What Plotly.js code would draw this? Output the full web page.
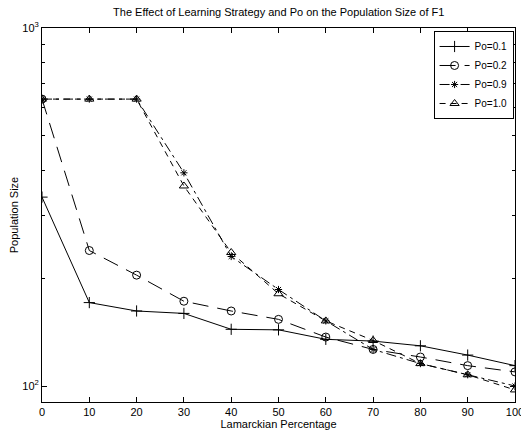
<!DOCTYPE html>
<html>
<head>
<meta charset="utf-8">
<script src="https://cdn.plot.ly/plotly-3.0.1.min.js"></script>
<style>html,body{margin:0;padding:0;background:#fff}#chart{width:521px;height:431px}</style>
</head>
<body>
<div id="chart"></div>
<script>
const lamarckian = [0, 10, 20, 30, 40, 50, 60, 70, 80, 90, 100];
const po01 = [337, 171, 162, 159.5, 144, 143.5, 135, 133.5, 129.5, 122, 114];
const po02 = [633, 239, 204, 172.5, 162, 153.5, 137, 126.5, 120.5, 114, 109.5];
const po09 = [633, 633, 633, 394, 230, 186, 152, 126.5, 115.5, 107.5, 100];
const po10 = [633, 633, 633, 362, 236, 181, 152, 134, 115.5, 107.5, 97.5];
const seriesNames = ['Po=0.1', 'Po=0.2', 'Po=0.9', 'Po=1.0'];
const yTickVals = [100, 1000];
const yTickText = ['10<sup>2</sup>', '10<sup>3</sup>'];
const yMinorVals = [200, 300, 400, 500, 600, 700, 800, 900];
const xTickVals = [0, 10, 20, 30, 40, 50, 60, 70, 80, 90, 100];

const styles = [
  {dash: 'solid', symbol: 'cross-thin-open', size: 8},
  {dash: '16px,9px', symbol: 'circle-open', size: 8},
  {dash: '10px,4px,3px,4px', symbol: 'asterisk-open', size: 6},
  {dash: '6px,5px', symbol: 'triangle-up-open', size: 8}
];
const allY = [po01, po02, po09, po10];
const traces = allY.map((ys, i) => ({
  x: lamarckian, y: ys, name: seriesNames[i], type: 'scatter', mode: 'lines+markers',
  line: {color: '#000', width: 1, dash: styles[i].dash},
  marker: {symbol: styles[i].symbol, size: styles[i].size, color: '#000', line: {color: '#000', width: 1}}
}));

const axisFont = {family: 'Liberation Sans, Arial, sans-serif', size: 11, color: '#000'};
const layout = {
  width: 521, height: 431,
  margin: {l: 42, r: 6, t: 28, b: 29},
  paper_bgcolor: '#fff', plot_bgcolor: '#fff',
  font: axisFont,
  title: {text: 'The Effect of Learning Strategy and Po on the Population Size of F1',
          font: {family: 'Liberation Sans, Arial, sans-serif', size: 11, color: '#000'},
          x: 0.535, xanchor: 'center', y: 0.972, yanchor: 'middle'},
  xaxis: {range: [0, 100], tickvals: xTickVals, ticks: 'inside', ticklen: 5, tickcolor: '#000',
          showline: true, linecolor: '#000', linewidth: 1, mirror: 'ticks', showgrid: false, zeroline: false,
          tickfont: axisFont, ticklabeloverflow: 'allow',
          title: {text: 'Lamarckian Percentage', font: axisFont, standoff: 2}},
  yaxis: {type: 'log', range: [1.9553, 3], tickvals: yTickVals, ticktext: yTickText,
          ticks: 'inside', ticklen: 5, tickcolor: '#000',
          minor: {tickvals: yMinorVals, ticks: 'inside', ticklen: 3, tickcolor: '#000', showgrid: false},
          showline: true, linecolor: '#000', linewidth: 1, mirror: 'ticks', showgrid: false, zeroline: false,
          tickfont: axisFont, ticklabeloverflow: 'allow',
          title: {text: 'Population Size', font: axisFont, standoff: 1}},
  legend: {x: 0.997, xanchor: 'right', y: 0.992, yanchor: 'top', bgcolor: '#fff',
           bordercolor: '#000', borderwidth: 1, font: {family: 'Liberation Sans, Arial, sans-serif', size: 10, color: '#000'},
           tracegroupgap: 0, itemwidth: 30},
  showlegend: true
};
Plotly.newPlot('chart', traces, layout, {displayModeBar: false, staticPlot: true});
</script>
</body>
</html>
